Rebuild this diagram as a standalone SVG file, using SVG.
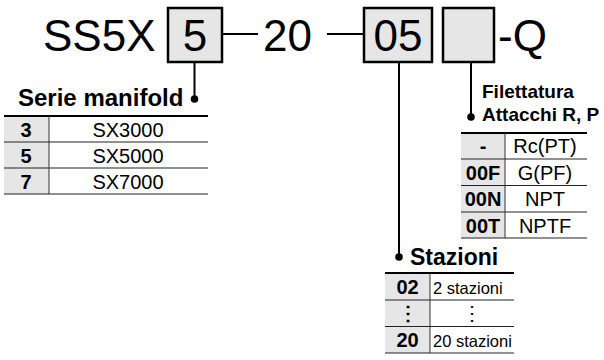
<svg xmlns="http://www.w3.org/2000/svg" width="604" height="360" viewBox="0 0 604 360">
<style>
.big{font-family:"Liberation Sans",Arial,sans-serif;font-size:44px;fill:#000}
.box{fill:#e6e6e6;stroke:#000;stroke-width:2.5}
.ln{stroke:#000;stroke-width:2;fill:none}
.ttl{font-family:"Liberation Sans",Arial,sans-serif;font-weight:bold;fill:#000}
.cell{fill:#e6e6e6}
.th{stroke:#000;stroke-width:2}
.rl{stroke:#222;stroke-width:1.2}
.vl{stroke:#333;stroke-width:1}
.b{font-family:"Liberation Sans",Arial,sans-serif;font-weight:bold;font-size:20px;text-anchor:middle}
.r{font-family:"Liberation Sans",Arial,sans-serif;font-size:20px;text-anchor:middle}
.s{font-family:"Liberation Sans",Arial,sans-serif;font-size:16.5px}
</style>
<g id="code">
<text class="big" x="43" y="51">SS5X</text>
<text class="big" x="263" y="51">20</text>
<text class="big" x="498" y="51">-Q</text>
</g>
<g id="box-series">
<rect class="box" x="168" y="8" width="54" height="54"/>
<text class="big" x="195" y="51" text-anchor="middle">5</text>
</g>
<g id="box-stations">
<rect class="box" x="364" y="8" width="68" height="54"/>
<text class="big" x="398" y="51" text-anchor="middle">05</text>
</g>
<g id="box-thread">
<rect class="box" x="443" y="8" width="51" height="54"/>
</g>
<g id="connectors">
<line class="ln" x1="222" y1="34" x2="258" y2="34"/>
<line class="ln" x1="327" y1="34" x2="364" y2="34"/>
<line class="ln" x1="194.5" y1="62" x2="194.5" y2="99"/>
<circle cx="194.5" cy="99" r="3.8"/>
<line class="ln" x1="399" y1="62" x2="399" y2="257"/>
<circle cx="399" cy="257" r="3.8"/>
<line class="ln" x1="471" y1="62" x2="471" y2="117"/>
<circle cx="471" cy="117" r="3.8"/>
</g>
<g id="table-series">
<text class="ttl" x="18" y="106" font-size="24">Serie manifold</text>
<rect class="cell" x="4" y="116" width="45" height="78"/>
<line class="th" x1="4" y1="116" x2="208" y2="116"/>
<line class="rl" x1="4" y1="142" x2="208" y2="142"/>
<line class="rl" x1="4" y1="168" x2="208" y2="168"/>
<line class="rl" x1="4" y1="194" x2="208" y2="194"/>
<line class="vl" x1="49" y1="116" x2="49" y2="194"/>
<text class="b" x="26" y="136.5">3</text>
<text class="b" x="26" y="162.5">5</text>
<text class="b" x="26" y="188.5">7</text>
<text class="r" x="128" y="136.5">SX3000</text>
<text class="r" x="128" y="162.5">SX5000</text>
<text class="r" x="128" y="188.5">SX7000</text>
</g>
<g id="table-thread">
<text class="ttl" x="482" y="98" font-size="19">Filettatura</text>
<text class="ttl" x="482" y="121" font-size="19">Attacchi R, P</text>
<rect class="cell" x="461" y="133" width="44" height="105"/>
<line class="th" x1="461" y1="133" x2="587" y2="133"/>
<line class="rl" x1="461" y1="159" x2="587" y2="159"/>
<line class="rl" x1="461" y1="185.5" x2="587" y2="185.5"/>
<line class="rl" x1="461" y1="212" x2="587" y2="212"/>
<line class="rl" x1="461" y1="238" x2="587" y2="238"/>
<line class="vl" x1="505" y1="133" x2="505" y2="238"/>
<text class="b" x="483" y="153">-</text>
<text class="b" x="483" y="179.5">00F</text>
<text class="b" x="483" y="206">00N</text>
<text class="b" x="483" y="232.5">00T</text>
<text class="r" x="545" y="153">Rc(PT)</text>
<text class="r" x="545" y="179.5">G(PF)</text>
<text class="r" x="545" y="206">NPT</text>
<text class="r" x="545" y="232.5">NPTF</text>
</g>
<g id="table-stations">
<text class="ttl" x="410" y="265" font-size="23">Stazioni</text>
<rect class="cell" x="385" y="273" width="45" height="80"/>
<line class="th" x1="385" y1="273" x2="514" y2="273"/>
<line class="rl" x1="385" y1="300" x2="514" y2="300"/>
<line class="rl" x1="385" y1="326.5" x2="514" y2="326.5"/>
<line class="rl" x1="385" y1="353" x2="514" y2="353"/>
<line class="vl" x1="430" y1="273" x2="430" y2="353"/>
<text class="b" x="407.5" y="293.5">02</text>
<text class="b" x="407.5" y="320">⋮</text>
<text class="b" x="407.5" y="346.5">20</text>
<text class="s" x="433" y="293.5">2 stazioni</text>
<text class="r" x="472" y="320">⋮</text>
<text class="s" x="433" y="346.5">20 stazioni</text>
</g>
</svg>
